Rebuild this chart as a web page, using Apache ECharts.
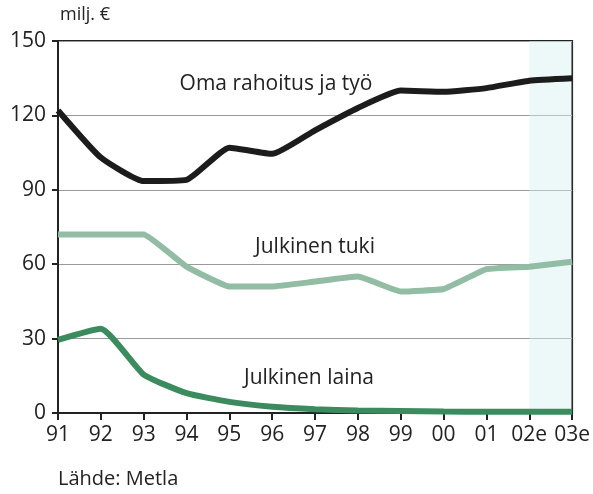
<!DOCTYPE html>
<html><head><meta charset="utf-8">
<script src="https://cdn.jsdelivr.net/npm/echarts@6/dist/echarts.min.js"></script>
<style>html,body{margin:0;padding:0;background:#fff}#c{width:593px;height:494px}</style>
</head><body><div id="c"></div>
<script>
const years = ['91','92','93','94','95','96','97','98','99','00','01','02e','03e'];
const yTicks = [0,30,60,90,120,150];
const omaRahoitus = [122,103,93.5,94,107,104.5,114,123,130,129.5,131,134,135];
const julkinenTuki = [72,72,72,59,51,51,53,55,49,50,58,59,61];
const julkinenLaina = [29.5,34,15.5,8,4.5,2.5,1.5,1,0.8,0.6,0.5,0.5,0.5];
const seriesNames = ['Oma rahoitus ja työ','Julkinen tuki','Julkinen laina'];

const FONT = '"Open Sans", Lato, sans-serif';
const chart = echarts.init(document.getElementById('c'), null, {renderer:'canvas'});
chart.setOption({
  animation:false,
  backgroundColor:'#fff',
  grid:{left:58,right:19,top:41,bottom:81,show:true,borderColor:'#222',borderWidth:2,backgroundColor:'transparent'},
  xAxis:{type:'category',data:years,boundaryGap:false,
    axisLine:{lineStyle:{color:'#222',width:2}},
    axisTick:{show:true,interval:0,length:7,lineStyle:{color:'#222',width:2},alignWithLabel:true},
    axisLabel:{color:'#222',fontSize:21,fontFamily:FONT,margin:12,interval:0,hideOverlap:false},
    splitLine:{show:false}},
  yAxis:{type:'value',min:0,max:150,interval:30,
    axisLine:{show:true,lineStyle:{color:'#222',width:2}},
    axisTick:{show:true,length:6,lineStyle:{color:'#222',width:2}},
    axisLabel:{color:'#222',fontSize:21,fontFamily:FONT,margin:12},
    splitLine:{show:true,lineStyle:{color:'#999',width:1}}},
  series:[
    {name:seriesNames[0],type:'line',data:omaRahoitus,symbol:'none',smooth:0.15,
     lineStyle:{color:'#1c1c1c',width:6},z:5,
     markArea:{silent:true,itemStyle:{color:'rgba(215,240,240,0.45)'},data:[[{xAxis:'02e'},{xAxis:'03e'}]]}},
    {name:seriesNames[1],type:'line',data:julkinenTuki,symbol:'none',smooth:0.1,
     lineStyle:{color:'#93bca5',width:6},z:4},
    {name:seriesNames[2],type:'line',data:julkinenLaina,symbol:'none',smooth:0.15,
     lineStyle:{color:'#3b8b5e',width:6},z:4}
  ],
  graphic:[
    {type:'text',left:60,top:6,style:{text:'milj. €',fontSize:18,fontFamily:FONT,fill:'#222'}},
    {type:'text',left:58,top:469,style:{text:'Lähde: Metla',fontSize:20,fontFamily:FONT,fill:'#222'}},
    {type:'text',x:276,y:84,style:{text:seriesNames[0],fontSize:21,fontFamily:FONT,fill:'#222',align:'center',verticalAlign:'middle'}},
    {type:'text',x:315,y:247,style:{text:seriesNames[1],fontSize:21,fontFamily:FONT,fill:'#222',align:'center',verticalAlign:'middle'}},
    {type:'text',x:309,y:378,style:{text:seriesNames[2],fontSize:21,fontFamily:FONT,fill:'#222',align:'center',verticalAlign:'middle'}}
  ]
});
</script></body></html>
